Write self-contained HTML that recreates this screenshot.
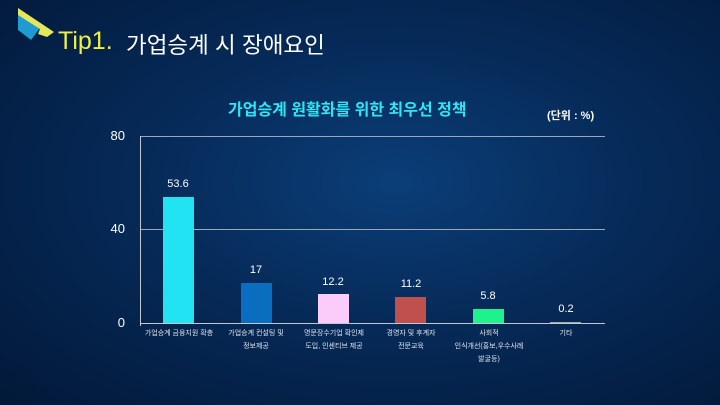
<!DOCTYPE html><html><head><meta charset="utf-8"><style>
body{margin:0;width:720px;height:405px;overflow:hidden;font-family:"Liberation Sans","Noto Sans CJK KR",sans-serif;
background:radial-gradient(ellipse at 55% 45%,#0b3e78 0%,#062a58 45%,#021838 100%);position:relative;color:#fff}
.a{position:absolute}
.t{font-size:11px;color:#fff;text-align:center;width:70px}
.c{font-size:7px;color:#dfe6f0;text-align:center;width:78px;line-height:13px}
.b{position:absolute;width:31px}
</style></head><body>
<svg class="a" style="left:0;top:0" width="60" height="60">
<polygon points="18,14 40,28 31,40 18,30" fill="#1e9bd0"/>
<polygon points="18,8 54,32 47,37 38,34 40,29 18,15" fill="#e6e65a"/>
</svg>
<div class="a" style="left:58px;top:27px;font-size:25px;color:#f0f040">Tip1.</div>
<div class="a" style="left:126px;top:28px;font-size:22.5px;color:#fff">가업승계 시 장애요인</div>
<div class="a" style="left:228px;top:96px;font-size:16px;font-weight:bold;color:#2ee6f5">가업승계 원활화를 위한 최우선 정책</div>
<div class="a" style="left:547px;top:107px;font-size:11px;font-weight:bold">(단위 : %)</div>
<div class="a" style="left:100px;top:128px;font-size:13px;width:25px;text-align:right">80</div>
<div class="a" style="left:100px;top:221px;font-size:13px;width:25px;text-align:right">40</div>
<div class="a" style="left:100px;top:315px;font-size:13px;width:25px;text-align:right">0</div>
<div class="a" style="left:140px;top:136px;width:465px;height:1px;background:#9aa8bd"></div>
<div class="a" style="left:140px;top:229px;width:465px;height:1px;background:#9aa8bd"></div>
<div class="a" style="left:140px;top:323px;width:465px;height:1px;background:#c0c8d4"></div>
<div class="a" style="left:140px;top:136px;width:1px;height:190px;background:#c0c8d4"></div>
<div class="b" style="left:163px;top:197px;height:126px;background:#22e3f2"></div>
<div class="b" style="left:241px;top:283px;height:40px;background:#0a6ec0"></div>
<div class="b" style="left:318px;top:294px;height:29px;background:#fbcbfa"></div>
<div class="b" style="left:395px;top:297px;height:26px;background:#c0504d"></div>
<div class="b" style="left:473px;top:309px;height:14px;background:#1ef28c"></div>
<div class="b" style="left:550px;top:322px;height:1px;background:#aaa"></div>
<div class="a t" style="left:143px;top:178px">53.6</div>
<div class="a t" style="left:221px;top:264px">17</div>
<div class="a t" style="left:298px;top:276px">12.2</div>
<div class="a t" style="left:376px;top:278px">11.2</div>
<div class="a t" style="left:453px;top:290px">5.8</div>
<div class="a t" style="left:531px;top:303px">0.2</div>
<div class="a c" style="left:140px;top:327px">가업승계 금융지원 확충</div>
<div class="a c" style="left:217px;top:327px">가업승계 컨설팅 및<br>정보제공</div>
<div class="a c" style="left:295px;top:327px">명문장수기업 확인제<br>도입, 인센티브 제공</div>
<div class="a c" style="left:372px;top:327px">경영자 및 후계자<br>전문교육</div>
<div class="a c" style="left:450px;top:327px">사회적<br>인식개선(홍보,우수사례<br>발굴등)</div>
<div class="a c" style="left:527px;top:327px">기타</div>
</body></html>
